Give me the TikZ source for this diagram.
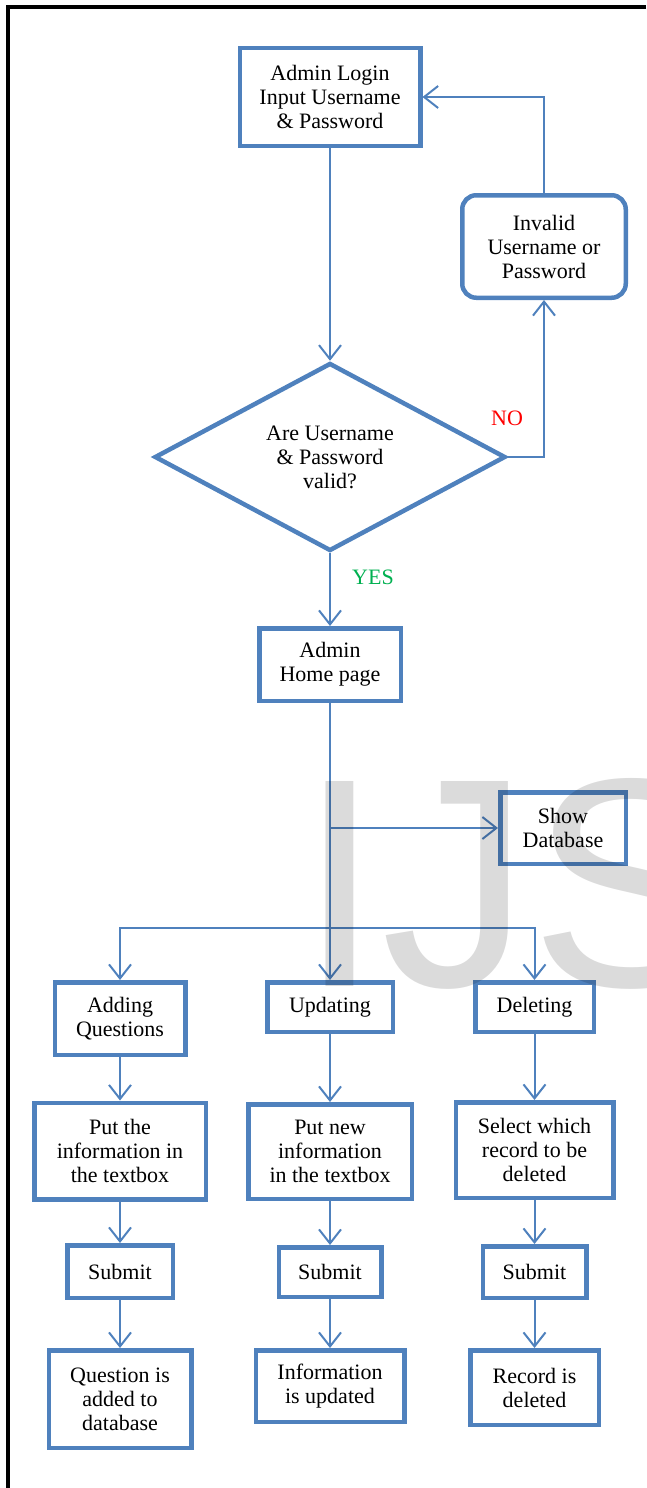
\documentclass[tikz,border=0pt]{standalone}
\usepackage{fontspec}
\setmainfont{Liberation Serif}
\newfontfamily\markfont{Liberation Sans}
\usetikzlibrary{arrows.meta, shapes.geometric}

\definecolor{boxblue}{HTML}{4F81BD}
\definecolor{yesgreen}{HTML}{00B050}

\begin{document}
\begin{tikzpicture}[x=1pt, y=-1pt, font=\fontsize{22}{24}\selectfont,
  box/.style={draw=boxblue, line width=4.5pt, align=center, inner sep=2pt},
  roundbox/.style={box, rounded corners=14pt},
  decision/.style={draw=boxblue, line width=4.5pt, diamond, aspect=1.88,
    align=center, inner sep=0pt, minimum width=351pt, minimum height=188pt},
  flow/.style={draw=boxblue, line width=2pt,
    -{Straight Barb[length=14pt, width=22pt, line width=2pt]}}]
  \useasboundingbox (0,0) rectangle (646,1488);
  \clip (0,0) rectangle (646,1488);

  % Page frame
  \draw[line width=3.5pt] (646,7) -- (8,7) -- (8,1490);

  % Login and check
  \node[box, minimum width=180.5pt, minimum height=97.5pt] (login) at (330,97) {Admin Login\\Input Username\\\& Password};
  \node[roundbox, minimum width=163.5pt, minimum height=102.5pt] (invalid) at (544,246.5) {Invalid\\Username or\\Password};
  \node[decision] (check) at (330,457) {Are Username\\\& Password\\valid?};
  \node[text=red, inner sep=0pt] (no) at (507,418) {NO};
  \node[text=yesgreen, inner sep=0pt] (yes) at (373,577) {YES};

  % Home page and database
  \node[box, minimum width=141.5pt, minimum height=72.5pt] (home) at (330,664.5) {Admin\\Home page};
  \node[box, minimum width=125.5pt, minimum height=71.5pt] (showdb) at (563,828) {Show\\Database};

  % Three branches
  \node[box, minimum width=130.5pt, minimum height=72.5pt] (adding) at (120,1018.5) {Adding\\Questions};
  \node[box, minimum width=125.5pt, minimum height=49.5pt] (updating) at (330,1007) {Updating};
  \node[box, minimum width=118.5pt, minimum height=49.5pt] (deleting) at (534.5,1007) {Deleting};

  \node[box, minimum width=171.5pt, minimum height=96.5pt] (putinfo) at (120,1151) {Put the\\information in\\the textbox};
  \node[box, minimum width=163.5pt, minimum height=94.5pt] (putnew) at (330,1151.5) {Put new\\information\\in the textbox};
  \node[box, minimum width=157.5pt, minimum height=95.5pt] (select) at (534.5,1150) {Select which\\record to be\\deleted};

  \node[box, minimum width=105.5pt, minimum height=52.5pt] (submitA) at (120,1271.5) {Submit};
  \node[box, minimum width=102.5pt, minimum height=49.5pt] (submitU) at (330,1272) {Submit};
  \node[box, minimum width=103.5pt, minimum height=51.5pt] (submitD) at (534.5,1272) {Submit};

  \node[box, minimum width=142.5pt, minimum height=97.5pt] (added) at (120,1399) {Question is\\added to\\database};
  \node[box, minimum width=148.5pt, minimum height=71.5pt] (updated) at (330,1386) {Information\\is updated};
  \node[box, minimum width=128.5pt, minimum height=74.5pt] (deleted) at (534.5,1387.5) {Record is\\deleted};

  \coordinate (fork) at (330,828);
  \coordinate (bar) at (330,928);

  % Edges
  \draw[flow] (login) -- (check);
  \draw[flow] (check.east) -| (invalid.south);
  \draw[flow] (invalid.north) |- (login.east);
  \draw[flow] (check) -- (home);
  \draw[flow] (home) -- (updating);
  \draw[flow] (fork) -- (showdb.west);
  \draw[flow] (bar) -| (adding.north);
  \draw[flow] (bar) -| (deleting.north);

  \draw[flow] (adding) -- (putinfo);
  \draw[flow] (putinfo) -- (submitA);
  \draw[flow] (submitA) -- (added);
  \draw[flow] (updating) -- (putnew);
  \draw[flow] (putnew) -- (submitU);
  \draw[flow] (submitU) -- (updated);
  \draw[flow] (deleting) -- (select);
  \draw[flow] (select) -- (submitD);
  \draw[flow] (submitD) -- (deleted);

  % Watermark
  \node[anchor=base west, inner sep=0pt, text=black, text opacity=0.14,
    font=\markfont\fontsize{298}{298}\selectfont] (mark) at (298,986) {IJS};
\end{tikzpicture}
\end{document}
